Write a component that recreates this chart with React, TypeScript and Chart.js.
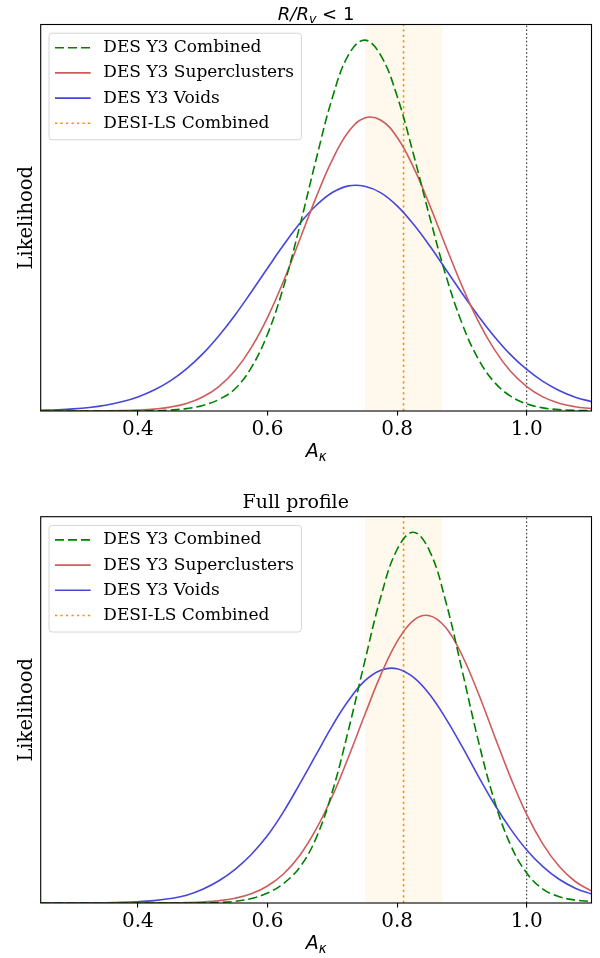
import React, { useEffect, useRef } from "react";
import { Chart, registerables } from "chart.js";

Chart.register(...registerables);

// ---- data ----
const xGrid = [
  0.25, 0.275, 0.3, 0.325, 0.35, 0.375, 0.4, 0.425, 0.45, 0.475, 0.5, 0.525, 0.55, 0.575, 0.6, 0.625, 0.65,
  0.675, 0.7, 0.725, 0.75, 0.775, 0.8, 0.825, 0.85, 0.875, 0.9, 0.925, 0.95, 0.975, 1.0, 1.025, 1.05, 1.075, 1.1,
];

// Panel 1: R/R_v < 1
const innerCombined = [
  0, 0, 0, 0, 0.00001, 0.00005, 0.0002, 0.0006, 0.0025, 0.0065, 0.015, 0.031, 0.06, 0.117, 0.207, 0.336, 0.5,
  0.678, 0.844, 0.96, 1.0, 0.958, 0.849, 0.694, 0.525, 0.367, 0.237, 0.141, 0.078, 0.04, 0.019, 0.0085, 0.0038,
  0.0018, 0.001,
];
const innerSuperclusters = [
  0.00001, 0.00002, 0.00006, 0.00015, 0.0004, 0.001, 0.0023, 0.005, 0.0104, 0.0204, 0.0378, 0.066, 0.109, 0.171,
  0.252, 0.351, 0.463, 0.576, 0.677, 0.753, 0.79, 0.784, 0.738, 0.658, 0.556, 0.445, 0.338, 0.243, 0.166, 0.107,
  0.066, 0.038, 0.021, 0.0115, 0.0065,
];
const innerVoids = [
  0.0018, 0.0033, 0.0057, 0.0096, 0.0156, 0.0247, 0.0379, 0.0564, 0.0813, 0.1137, 0.154, 0.203, 0.259, 0.321,
  0.385, 0.448, 0.506, 0.554, 0.589, 0.607, 0.606, 0.588, 0.553, 0.504, 0.446, 0.382, 0.318, 0.257, 0.201, 0.152,
  0.112, 0.08, 0.0555, 0.0373, 0.025,
];

// Panel 2: Full profile
const fullCombined = [
  0, 0, 0, 0, 0, 0, 0.00001, 0.00002, 0.00005, 0.00015, 0.0004, 0.0015, 0.0045, 0.012, 0.027, 0.053, 0.097,
  0.175, 0.3, 0.467, 0.651, 0.8265, 0.9535, 1.0, 0.95, 0.814, 0.63, 0.44, 0.277, 0.157, 0.0807, 0.0374, 0.017,
  0.008, 0.004,
];
const fullSuperclusters = [
  0, 0, 0, 0, 0.00001, 0.00002, 0.00007, 0.0002, 0.0005, 0.0012, 0.0028, 0.0062, 0.0129, 0.025, 0.046, 0.079,
  0.129, 0.199, 0.288, 0.394, 0.507, 0.616, 0.705, 0.762, 0.775, 0.743, 0.669, 0.567, 0.452, 0.339, 0.239, 0.159,
  0.099, 0.058, 0.032,
];
const fullVoids = [
  0.00003, 0.00007, 0.00017, 0.00038, 0.0008, 0.0017, 0.0034, 0.0065, 0.012, 0.021, 0.037, 0.06, 0.091, 0.131,
  0.182, 0.247, 0.322, 0.4, 0.478, 0.546, 0.599, 0.628, 0.632, 0.609, 0.563, 0.498, 0.423, 0.343, 0.267, 0.2,
  0.143, 0.098, 0.064, 0.04, 0.024,
];

const xTicks = [0.4, 0.6, 0.8, 1.0];
const xRange = [0.25, 1.1];
const yMax = 1.042;
const desiCenter = 0.81;
const desiBand = [0.75, 0.87];
const refLine = 1.0;
const seriesLabels = ["DES Y3 Combined", "DES Y3 Superclusters", "DES Y3 Voids", "DESI-LS Combined"];
const panelTitles = ["R/R_v < 1", "Full profile"];

// ---- styles ----
const GREEN = "#008000";
const RED = "#cd5c5c";
const BLUE = "#4646dc";
const ORANGE = "#ff8c00";
const BAND = "rgba(255,165,0,0.07)";
const SERIF = '"DejaVu Serif"';

type Seg = { t: string; italic?: boolean; sub?: boolean };

const topTitleSegs: Seg[] = [
  { t: "R/R", italic: true },
  { t: "v", italic: true, sub: true },
  { t: " < " },
  { t: "1" },
];
const xLabelSegs: Seg[] = [
  { t: "A", italic: true },
  { t: "\u03ba", italic: true, sub: true },
];

function drawMath(ctx: CanvasRenderingContext2D, segs: Seg[], cx: number, baseline: number, size: number) {
  const fontFor = (s: Seg) => `${s.italic ? "italic " : ""}${s.sub ? size * 0.7 : size}px "DejaVu Sans"`;
  const widths = segs.map((s) => {
    ctx.font = fontFor(s);
    return ctx.measureText(s.t).width;
  });
  const total = widths.reduce((a, b) => a + b, 0);
  let x = cx - total / 2;
  ctx.textAlign = "left";
  ctx.textBaseline = "alphabetic";
  segs.forEach((s, i) => {
    ctx.font = fontFor(s);
    ctx.fillText(s.t, x, baseline + (s.sub ? size * 0.22 : 0));
    x += widths[i];
  });
}

const framePlugin = {
  id: "frame",
  afterDatasetsDraw(chart: any) {
    const { ctx, chartArea: ca } = chart;
    ctx.save();
    ctx.strokeStyle = "#000";
    ctx.lineWidth = 1.1;
    ctx.setLineDash([]);
    ctx.strokeRect(ca.left, ca.top, ca.right - ca.left, ca.bottom - ca.top);
    ctx.restore();
  },
};

const legendPlugin = {
  id: "boxLegend",
  afterDatasetsDraw(chart: any) {
    const { ctx, chartArea: ca } = chart;
    const items = chart.data.datasets.filter((d: any) => d.label);
    ctx.save();
    ctx.font = `17px ${SERIF}`;
    const maxW = Math.max(...items.map((d: any) => ctx.measureText(d.label).width));
    const left = ca.left + 8.3;
    const top = ca.top + 8.7;
    const textX = ca.left + 62.6;
    const right = textX + maxW + 7.5;
    const bottom = top + 106.6;
    const r = 3;
    ctx.beginPath();
    ctx.moveTo(left + r, top);
    ctx.lineTo(right - r, top);
    ctx.quadraticCurveTo(right, top, right, top + r);
    ctx.lineTo(right, bottom - r);
    ctx.quadraticCurveTo(right, bottom, right - r, bottom);
    ctx.lineTo(left + r, bottom);
    ctx.quadraticCurveTo(left, bottom, left, bottom - r);
    ctx.lineTo(left, top + r);
    ctx.quadraticCurveTo(left, top, left + r, top);
    ctx.closePath();
    ctx.fillStyle = "rgba(255,255,255,0.8)";
    ctx.fill();
    ctx.strokeStyle = "#d6d6d6";
    ctx.lineWidth = 1;
    ctx.stroke();
    items.forEach((d: any, i: number) => {
      const y = ca.top + 23.2 + i * 25.2;
      ctx.strokeStyle = d.borderColor;
      ctx.lineWidth = d.borderWidth;
      ctx.setLineDash(d.borderDash || []);
      ctx.beginPath();
      ctx.moveTo(ca.left + 14.3, y);
      ctx.lineTo(ca.left + 50, y);
      ctx.stroke();
      ctx.setLineDash([]);
      ctx.fillStyle = "#000";
      ctx.textAlign = "left";
      ctx.textBaseline = "middle";
      ctx.fillText(d.label, textX, y);
    });
    ctx.restore();
  },
};

type PanelProps = {
  top: number;
  title: string;
  math: boolean;
  combined: number[];
  superclusters: number[];
  voids: number[];
};

function Panel(props: PanelProps) {
  const ref = useRef<HTMLCanvasElement | null>(null);
  useEffect(() => {
    const canvas = ref.current;
    if (!canvas) return;
    const toPts = (ys: number[]) => xGrid.map((x, i) => ({ x, y: ys[i] }));
    const mathPlugin = {
      id: "mathText",
      afterDraw(chart: any) {
        const { ctx, chartArea: ca } = chart;
        const cx = (ca.left + ca.right) / 2;
        ctx.save();
        ctx.fillStyle = "#000";
        if (props.math) drawMath(ctx, topTitleSegs, cx, ca.top - 5, 18);
        drawMath(ctx, xLabelSegs, cx, ca.bottom + 46.3, 19);
        ctx.restore();
      },
    };
    const curve = (label: string, ys: number[], color: string, dash: number[]) => ({
      label,
      data: toPts(ys),
      borderColor: color,
      backgroundColor: color,
      borderWidth: 1.6,
      borderDash: dash,
      pointRadius: 0,
      fill: false,
      tension: 0.4,
      cubicInterpolationMode: "default",
    });
    const chart = new Chart(canvas, {
      type: "line",
      data: {
        datasets: [
          curve(seriesLabels[0], props.combined, GREEN, [9, 4]),
          curve(seriesLabels[1], props.superclusters, RED, []),
          curve(seriesLabels[2], props.voids, BLUE, []),
          {
            label: seriesLabels[3],
            data: [
              { x: desiCenter, y: 0 },
              { x: desiCenter, y: yMax },
            ],
            borderColor: ORANGE,
            borderWidth: 1.6,
            borderDash: [2.2, 3.3],
            pointRadius: 0,
            fill: false,
          },
          {
            data: [
              { x: refLine, y: 0 },
              { x: refLine, y: yMax },
            ],
            borderColor: "#222",
            borderWidth: 1,
            borderDash: [1.6, 2.2],
            pointRadius: 0,
            fill: false,
          },
          {
            data: [
              { x: desiBand[0], y: yMax },
              { x: desiBand[1], y: yMax },
            ],
            borderWidth: 0,
            borderColor: "rgba(0,0,0,0)",
            backgroundColor: BAND,
            fill: "origin",
            pointRadius: 0,
          },
        ] as any,
      },
      options: {
        animation: false,
        responsive: true,
        maintainAspectRatio: false,
        events: [],
        layout: { padding: { left: 0, right: 8.5, top: props.math ? 24.5 : 0, bottom: 0 } },
        plugins: {
          legend: { display: false },
          tooltip: { enabled: false },
          title: {
            display: !props.math,
            text: props.title,
            color: "#000",
            font: { family: "DejaVu Serif", size: 19, weight: "normal" },
            padding: { top: 0, bottom: 1.9 },
          },
        },
        scales: {
          x: {
            type: "linear",
            min: xRange[0],
            max: xRange[1],
            afterBuildTicks: (s: any) => {
              s.ticks = xTicks.map((v) => ({ value: v }));
            },
            afterFit: (s: any) => {
              s.height = 55;
            },
            ticks: {
              callback: (v: any) => Number(v).toFixed(1),
              font: { family: "DejaVu Serif", size: 20 },
              color: "#000",
              padding: 2,
              maxRotation: 0,
              autoSkip: false,
            },
            grid: {
              display: true,
              drawOnChartArea: false,
              drawTicks: true,
              tickLength: 4.5,
              color: "#000",
              lineWidth: 1.1,
            },
            border: { display: false },
          },
          y: {
            type: "linear",
            min: 0,
            max: yMax,
            afterFit: (s: any) => {
              s.width = 40.7;
            },
            ticks: { display: false },
            grid: { display: false },
            border: { display: false },
            title: {
              display: true,
              text: "Likelihood",
              color: "#000",
              font: { family: "DejaVu Serif", size: 19.5 },
              padding: { top: 14.9, bottom: 0 },
            },
          },
        },
      } as any,
      plugins: [framePlugin, legendPlugin, mathPlugin],
    });
    return () => chart.destroy();
  }, []);
  return (
    <div style={{ position: "absolute", left: 0, top: props.top, width: 600, height: 466 }}>
      <canvas ref={ref} />
    </div>
  );
}

export default function App() {
  return (
    <div
      style={{
        position: "absolute",
        left: 0,
        top: 0,
        width: 600,
        height: 958,
        background: "#fff",
        overflow: "hidden",
      }}
    >
      <Panel
        top={0}
        title={panelTitles[0]}
        math={true}
        combined={innerCombined}
        superclusters={innerSuperclusters}
        voids={innerVoids}
      />
      <Panel
        top={492}
        title={panelTitles[1]}
        math={false}
        combined={fullCombined}
        superclusters={fullSuperclusters}
        voids={fullVoids}
      />
    </div>
  );
}
